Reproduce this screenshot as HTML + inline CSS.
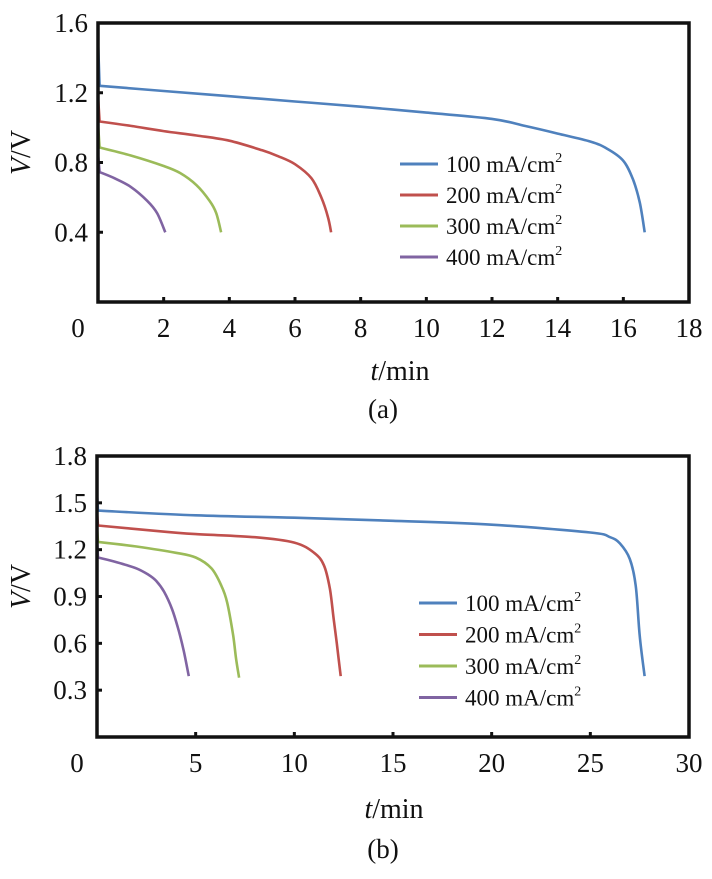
<!DOCTYPE html>
<html><head><meta charset="utf-8">
<style>
html,body{margin:0;padding:0;background:#fff;}
svg, svg text{font-family:"Liberation Serif","Times New Roman",serif;}
</style></head>
<body>
<svg id="fig" width="712" height="874" viewBox="0 0 712 874" font-family="Liberation Serif, serif" xmlns="http://www.w3.org/2000/svg"></svg>
<script>
// ---- data (a) ----
const aXTicks = [0,2,4,6,8,10,12,14,16,18];
const aYTicks = [0.4,0.8,1.2,1.6];
const aSeriesNames = ["100 mA/cm","200 mA/cm","300 mA/cm","400 mA/cm"];
const a100 = [[0,1.5],[0.05,1.24],[2,1.21],[4,1.18],[6,1.15],[8,1.12],[10,1.086],[12,1.05],[13,1.01],[14,0.966],[15,0.92],[15.5,0.88],[16,0.81],[16.3,0.70],[16.5,0.57],[16.65,0.4]];
const a200 = [[0,1.18],[0.05,1.035],[1,1.01],[2,0.98],[3,0.955],[4,0.925],[5,0.87],[5.5,0.835],[6,0.79],[6.5,0.71],[6.8,0.6],[7.0,0.49],[7.1,0.4]];
const a300 = [[0,1.02],[0.05,0.886],[1,0.84],[2,0.78],[2.5,0.74],[3,0.67],[3.4,0.58],[3.6,0.51],[3.75,0.4]];
const a400 = [[0,0.85],[0.05,0.745],[0.5,0.71],[1,0.66],[1.5,0.58],[1.8,0.51],[2.05,0.4]];
// ---- data (b) ----
const bXTicks = [0,5,10,15,20,25,30];
const bYTicks = [0.3,0.6,0.9,1.2,1.5,1.8];
const b100 = [[0,1.56],[0.05,1.45],[5,1.42],[10,1.405],[15,1.385],[20,1.36],[25,1.31],[26,1.28],[26.5,1.24],[27,1.14],[27.3,0.97],[27.5,0.65],[27.75,0.39]];
const b200 = [[0,1.44],[0.05,1.355],[3,1.32],[5,1.30],[8,1.28],[10,1.245],[11,1.18],[11.5,1.10],[11.8,0.95],[12.0,0.75],[12.15,0.6],[12.35,0.39]];
const b300 = [[0,1.35],[0.05,1.25],[2,1.22],[4,1.18],[5,1.15],[5.8,1.08],[6.3,0.97],[6.6,0.86],[6.9,0.65],[7.05,0.5],[7.2,0.38]];
const b400 = [[0,1.27],[0.05,1.15],[1,1.12],[2,1.08],[2.6,1.04],[3,1.0],[3.4,0.93],[3.8,0.82],[4.1,0.7],[4.4,0.55],[4.65,0.39]];
const colors = ["#4f81bd","#c0504d","#9bbb59","#8064a2"];

const NS="http://www.w3.org/2000/svg";
const svg=document.getElementById('fig');
function mk(tag,attrs,parent){const e=document.createElementNS(NS,tag);for(const k in attrs)e.setAttribute(k,attrs[k]);(parent||svg).appendChild(e);return e;}
function smooth(pts){
  let d='M'+pts[0][0].toFixed(1)+','+pts[0][1].toFixed(1)+' L'+pts[1][0].toFixed(1)+','+pts[1][1].toFixed(1);
  for(let i=1;i<pts.length-1;i++){
    const p0=pts[Math.max(1,i-1)],p1=pts[i],p2=pts[i+1],p3=pts[Math.min(pts.length-1,i+2)];
    const c1=[p1[0]+(p2[0]-p0[0])/6,p1[1]+(p2[1]-p0[1])/6];
    const c2=[p2[0]-(p3[0]-p1[0])/6,p2[1]-(p3[1]-p1[1])/6];
    d+=' C'+c1.map(v=>v.toFixed(1)).join(',')+' '+c2.map(v=>v.toFixed(1)).join(',')+' '+p2.map(v=>v.toFixed(1)).join(',');
  }
  return d;
}

function chart(id,box,xmax,ymax,xTicks,yTicks,series,legend,caption){
  const g=mk('g',{});
  
  
  const X=v=>box.l+(box.r-box.l)*v/xmax;
  const Y=v=>box.b-(box.b-box.t)*v/ymax;
  series.forEach((s,i)=>{
    const p=mk('path',{d:smooth(s.map(d=>[X(d[0]),Y(d[1])])),fill:'none',stroke:colors[i],'stroke-width':2.6,'stroke-linejoin':'round'},g);
    
    
  });
  const fr=mk('rect',{x:box.l,y:box.t,width:box.r-box.l,height:box.b-box.t,fill:'none',stroke:'#111','stroke-width':3.5},g);
  
  
  xTicks.forEach(v=>{
    if(v>0&&v<xmax) mk('line',{x1:X(v),x2:X(v),y1:box.b,y2:box.b-5,stroke:'#111','stroke-width':3},g);
    const tx = v===0 ? box.l-20 : X(v);
    const t=mk('text',{x:tx,y:box.b+35,'text-anchor':'middle','font-size':27,fill:'#111','font-family':'Liberation Serif, serif'},g);
    t.textContent=v;
    
    
  });
  yTicks.forEach(v=>{
    if(v<ymax-0.01) mk('line',{x1:box.l,x2:box.l+5,y1:Y(v),y2:Y(v),stroke:'#111','stroke-width':3},g);
    const t=mk('text',{x:box.l-10,y:Y(v)+9,'text-anchor':'end','font-size':27,fill:'#111','font-family':'Liberation Serif, serif'},g);
    t.textContent=v.toFixed(1);
    
    
  });
  const yt=mk('text',{transform:`translate(30,${(box.t+box.b)/2-10}) rotate(-90)`,'text-anchor':'middle','font-size':28,fill:'#111','font-family':'Liberation Serif, serif'},g);
  yt.innerHTML='<tspan font-style="italic">V</tspan>/V';
  
  
  const xt=mk('text',{x:caption.tx,y:caption.ty,'text-anchor':'middle','font-size':28,fill:'#111','font-family':'Liberation Serif, serif'},g);
  xt.innerHTML='<tspan font-style="italic">t</tspan>/min';
  
  
  const cp=mk('text',{x:caption.cx,y:caption.cy,'text-anchor':'middle','font-size':27,fill:'#111','font-family':'Liberation Serif, serif'},g);
  cp.textContent=caption.text;
  
  
  aSeriesNames.forEach((n,i)=>{
    const y=legend.y+i*legend.dy;
    const lg=mk('g',{},g);
    
    
    mk('line',{x1:legend.x,x2:legend.x+38,y1:y,y2:y,stroke:colors[i],'stroke-width':3},lg);
    const t=mk('text',{x:legend.x+46,y:y+8,'font-size':23,fill:'#111','font-family':'Liberation Serif, serif'},lg);
    t.innerHTML=n+'<tspan font-size="14" dy="-10">2</tspan>';
  });
}
chart('a',{l:98,r:689,t:23,b:302},18,1.6,aXTicks,aYTicks,[a100,a200,a300,a400],
  {x:400,y:164,dy:31},{tx:400,ty:380,cx:383,cy:418,text:'(a)'});
chart('b',{l:97,r:689,t:456,b:737},30,1.8,bXTicks,bYTicks,[b100,b200,b300,b400],
  {x:419,y:603,dy:31.5},{tx:394,ty:818,cx:383,cy:858,text:'(b)'});
</script>
</body></html>
